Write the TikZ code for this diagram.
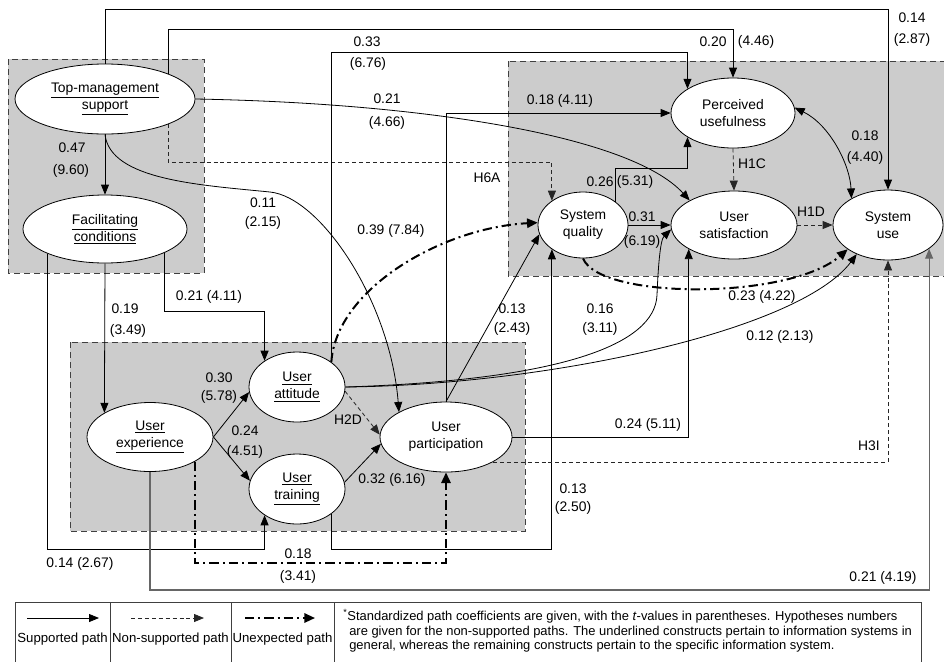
\documentclass[tikz,border=0pt]{standalone}
\usepackage{fontspec}
\setmainfont{Liberation Sans}
\usetikzlibrary{shapes.geometric,arrows.meta}
\pgfdeclarelayer{boxes}
\pgfdeclarelayer{links}
\pgfsetlayers{boxes,links,main}

\tikzset{
  construct/.style={ellipse, draw=black, fill=white, line width=0.6pt, inner sep=0pt,
    align=center, font=\fontsize{10.4}{12.8}\selectfont},
  lbl/.style={inner sep=0pt, font=\fontsize{10.4}{12.5}\selectfont},
  key/.style={inner sep=0pt, font=\fontsize{9.9}{12}\selectfont},
  note/.style={inner sep=0pt, anchor=base west, font=\fontsize{9.7}{11.2}\selectfont},
  >={Triangle[length=7.5pt,width=6pt]},
  sup/.style={line width=0.6pt, ->},
  nonsup/.style={line width=0.6pt, draw=black!85, dash pattern=on 3pt off 2.2pt, ->},
  unexp/.style={line width=1.5pt, dash pattern=on 7pt off 3pt on 1.5pt off 3pt,
    -{Triangle[length=8pt,width=7pt]}},
  group/.style={fill=black!20, draw=black!75, line width=0.6pt, dash pattern=on 4.5pt off 3pt},
}

\begin{document}
\begin{tikzpicture}[x=0.75pt,y=-0.75pt]
\useasboundingbox (0,0) rectangle (944,661);

% ---------- constructs ----------
\node[construct, minimum width=135pt, minimum height=52.5pt] (tms) at (105,99)
  {\underline{Top-management}\\\underline{support}};
\node[construct, minimum width=123pt, minimum height=51pt] (fc) at (105,229)
  {\underline{Facilitating}\\\underline{conditions}};
\node[construct, minimum width=94.5pt, minimum height=51.75pt] (ue) at (150,437)
  {\underline{User}\\\underline{experience}};
\node[construct, minimum width=72pt, minimum height=52.5pt] (ua) at (297,387)
  {\underline{User}\\\underline{attitude}};
\node[construct, minimum width=72pt, minimum height=52.5pt] (ut) at (297,489)
  {\underline{User}\\\underline{training}};
\node[construct, minimum width=99pt, minimum height=52.5pt] (up) at (446,437)
  {User\\participation};
\node[construct, minimum width=67.5pt, minimum height=49.5pt] (sq) at (583,225)
  {System\\quality};
\node[construct, minimum width=94.5pt, minimum height=51pt] (us) at (734,225)
  {User\\satisfaction};
\node[construct, minimum width=93pt, minimum height=52.5pt] (pu) at (733,113)
  {Perceived\\usefulness};
\node[construct, minimum width=82.5pt, minimum height=52.5pt] (su) at (888,225)
  {System\\use};

% ---------- routing rows ----------
\coordinate (row1) at (0,9);
\coordinate (row2) at (0,29);
\coordinate (row3) at (0,52);
\coordinate (rowH6A) at (0,162);
\coordinate (row026) at (0,168);
\coordinate (rowFCA) at (0,311);
\coordinate (rowLow) at (0,549);
\coordinate (rowUnexp) at (0,563);
\coordinate (rowBottom) at (0,590);

% ---------- shaded groups ----------
\begin{pgfonlayer}{boxes}
  \draw[group] (8,59) rectangle (204,273);
  \draw[group] (508,61) rectangle (952,276);
  \draw[group] (70,342) rectangle (525,531);
\end{pgfonlayer}

% ---------- paths ----------
\begin{pgfonlayer}{links}
  % top management
  \draw[sup] (tms.north) -- (tms.north |- row1) -- (su.north |- row1) -- (su.north);
  \draw[sup] (tms.22) -- (tms.22 |- row2) -- (pu.north |- row2) -- (pu.north);
  \draw[nonsup] (tms.-22) -- (tms.-22 |- rowH6A) -- (sq.142 |- rowH6A) -- (sq.142);
  \draw[sup] (tms.east) .. controls (420,103) and (630,135) .. (us.151);
  \draw[sup] (tms.south) -- (fc.north);
  \draw[sup] (tms.south) .. controls (110,180) and (200,185) .. (270,192)
                          .. controls (320,197) and (390,300) .. (up.152);
  % facilitating conditions
  \draw[sup] (fc.south) -- (ue.152);
  \draw[sup] (fc.-22.5) -- (fc.-22.5 |- rowFCA) -- (ua.141 |- rowFCA) -- (ua.141);
  \draw[sup] (fc.-157) -- (fc.-157 |- rowLow) -- (ut.-141 |- rowLow) -- (ut.-141);
  % user experience
  \draw[sup] (ue.east) -- (ua.186);
  \draw[sup] (ue.east) -- (ut.170);
  \draw[unexp] (ue.-29) -- (ue.-29 |- rowUnexp) -- (up.south |- rowUnexp) -- (up.south);
  \draw[sup, draw=black!60, line width=0.8pt] (ue.south) -- (ue.south |- rowBottom)
        -- (su.-30 |- rowBottom) -- (su.-30);
  % user training
  \draw[sup] (ut.8) -- (up.186);
  \draw[sup] (ut.-36) -- (ut.-36 |- rowLow) -- (sq.-142 |- rowLow) -- (sq.-142);
  % user attitude
  \draw[nonsup] (ua.-5) -- (up.178);
  \draw[unexp] (ua.36) .. controls (336,290) and (440,228) .. (sq.177);
  \draw[sup] (ua.36) -- (ua.36 |- row3) -- (pu.152 |- row3) -- (pu.152);
  \draw[sup] (ua.east) .. controls (550,385) and (800,330) .. (su.-137);
  \draw[sup] (ua.east) .. controls (560,380) and (655,345) .. (657,295)
                        .. controls (658,270) and (660,240) .. (us.184);
  % user participation
  \draw[sup] (up.north) -- (sq.192);
  \draw[sup] (up.north) |- (pu.west);
  \draw[sup] (up.east) -| (us.-152);
  \draw[nonsup] (up.-28) -| (su.south);
  % system quality
  \draw[sup] (sq.36) -- (sq.36 |- row026) -- (pu.-152 |- row026) -- (pu.-152);
  \draw[sup] (sq.east) -- (us.west);
  \draw[unexp] (sq.south) .. controls (600,300) and (790,300) .. (su.-149);
  % outcomes
  \draw[nonsup] (pu.south) -- (us.north);
  \draw[nonsup] (us.east) -- (su.west);
  \draw[sup, <->] (pu.5) .. controls (830,125) and (850,165) .. (su.144);
\end{pgfonlayer}

% ---------- coefficients ----------
\node[lbl] (c01) at (912,18) {0.14};
\node[lbl] (c02) at (912,40) {(2.87)};
\node[lbl] (c03) at (713,42) {0.20};
\node[lbl] (c04) at (756,42) {(4.46)};
\node[lbl] (c05) at (367,42) {0.33};
\node[lbl] (c06) at (368,64) {(6.76)};
\node[lbl] (c07) at (387,99) {0.21};
\node[lbl] (c08) at (387,123) {(4.66)};
\node[lbl] (c09) at (560,101) {0.18 (4.11)};
\node[lbl] (c10) at (72,148) {0.47};
\node[lbl] (c11) at (71,171) {(9.60)};
\node[lbl] (c12) at (487,178) {H6A};
\node[lbl] (c13) at (600,182) {0.26};
\node[lbl] (c14) at (635,182) {(5.31)};
\node[lbl] (c15) at (263,203) {0.11};
\node[lbl] (c16) at (263,223) {(2.15)};
\node[lbl] (c17) at (391,231) {0.39 (7.84)};
\node[lbl] (c18) at (642,217) {0.31};
\node[lbl] (c19) at (642,242) {(6.19)};
\node[lbl] (c20) at (752,164) {H1C};
\node[lbl] (c21) at (811,212) {H1D};
\node[lbl] (c22) at (865,136) {0.18};
\node[lbl] (c23) at (865,158) {(4.40)};
\node[lbl] (c24) at (762,297) {0.23 (4.22)};
\node[lbl] (c25) at (209,297) {0.21 (4.11)};
\node[lbl] (c26) at (125,309) {0.19};
\node[lbl] (c27) at (128,331) {(3.49)};
\node[lbl] (c28) at (512,309) {0.13};
\node[lbl] (c29) at (512,329) {(2.43)};
\node[lbl] (c30) at (600,309) {0.16};
\node[lbl] (c31) at (600,329) {(3.11)};
\node[lbl] (c32) at (780,337) {0.12 (2.13)};
\node[lbl] (c33) at (219,378) {0.30};
\node[lbl] (c34) at (219,397) {(5.78)};
\node[lbl] (c35) at (348,420) {H2D};
\node[lbl] (c36) at (245,431) {0.24};
\node[lbl] (c37) at (245,452) {(4.51)};
\node[lbl] (c38) at (648,425) {0.24 (5.11)};
\node[lbl] (c39) at (869,446) {H3I};
\node[lbl] (c40) at (392,480) {0.32 (6.16)};
\node[lbl] (c41) at (573,489) {0.13};
\node[lbl] (c42) at (573,508) {(2.50)};
\node[lbl] (c43) at (298,554) {0.18};
\node[lbl] (c44) at (298,577) {(3.41)};
\node[lbl] (c45) at (80,564) {0.14 (2.67)};
\node[lbl] (c46) at (883,578) {0.21 (4.19)};

% ---------- legend ----------
\draw[draw=black!75, line width=0.7pt] (15,602) rectangle (921,672);
\draw[draw=black!75, line width=0.7pt] (110,602) -- (110,672);
\draw[draw=black!75, line width=0.7pt] (231,602) -- (231,672);
\draw[draw=black!75, line width=0.7pt] (334,602) -- (334,672);
\coordinate (ls1) at (27,618);  \coordinate (le1) at (99,618);
\coordinate (ls2) at (131,618); \coordinate (le2) at (204,618);
\coordinate (ls3) at (245,618); \coordinate (le3) at (315,618);
\draw[sup] (ls1) -- (le1);
\draw[nonsup] (ls2) -- (le2);
\draw[unexp] (ls3) -- (le3);
\node[key] (k1) at (62.5,639) {Supported path};
\node[key] (k2) at (170.5,639) {Non-supported path};
\node[key] (k3) at (282.5,639) {Unexpected path};
\node[note] (n1) at (343,620) {\textsuperscript{*}Standardized path coefficients are given, with the \textit{t}-values in parentheses. Hypotheses numbers};
\node[note] (n2) at (349,635) {are given for the non-supported paths. The underlined constructs pertain to information systems in};
\node[note] (n3) at (349,649) {general, whereas the remaining constructs pertain to the specific information system.};
\end{tikzpicture}
\end{document}
